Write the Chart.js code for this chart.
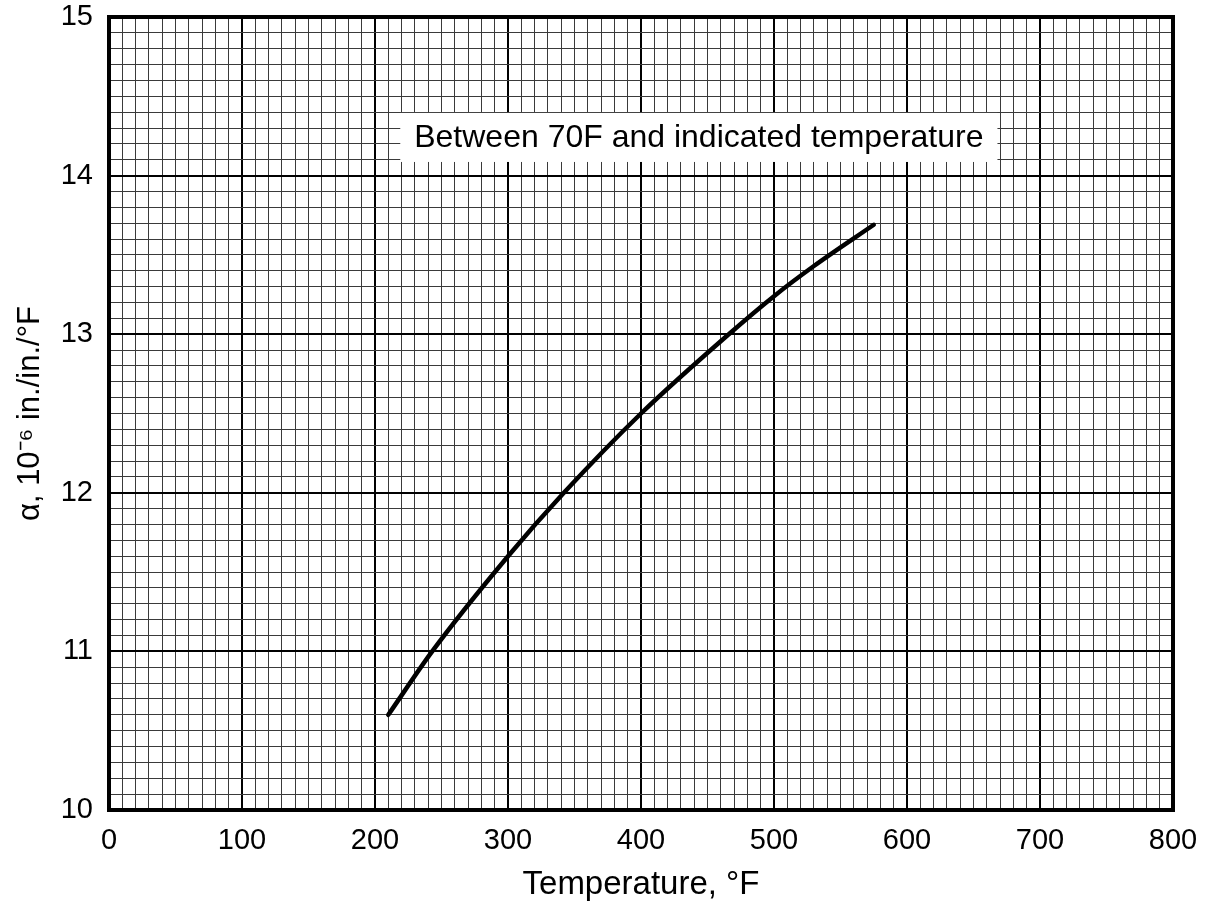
<!DOCTYPE html>
<html lang="en">
  <head>
    <meta charset="UTF-8" />
    <title>Thermal expansion coefficient</title>
    <script src="https://cdn.jsdelivr.net/npm/chart.js"></script>
    <style>
      body {
        margin: 0;
        background-color: white;
      }
    </style>
  </head>
  <body>
    <canvas id="alpha-chart" width="1210" height="911"></canvas>

    <script>
      // Curve
      const temperatures = [210, 243, 300, 342, 400, 466, 500, 530, 575];
      const alphaValues = [10.6, 11.0, 11.6, 12.0, 12.5, 13.0, 13.24, 13.43, 13.69];

      const xRange = [0, 800];
      const yRange = [10, 15];
      const noteText = "Between 70F and indicated temperature";
      // note box corners in data units
      const noteBox = { x0: 219, x1: 668, y0: 14.086, y1: 14.395 };

      const fontFamily = "Arial, 'Liberation Sans', sans-serif";

      function isMajorY(v) {
        return Math.abs(v - Math.round(v)) < 1e-6;
      }

      const framePlugin = {
        id: "frame",
        afterDatasetsDraw(chart) {
          const { ctx, chartArea, scales } = chart;
          ctx.save();
          // note box
          const left = scales.x.getPixelForValue(noteBox.x0);
          const right = scales.x.getPixelForValue(noteBox.x1);
          const top = scales.y.getPixelForValue(noteBox.y1);
          const bottom = scales.y.getPixelForValue(noteBox.y0);
          ctx.fillStyle = "white";
          ctx.fillRect(left, top, right - left, bottom - top);
          ctx.fillStyle = "black";
          ctx.font = "32px " + fontFamily;
          ctx.textAlign = "center";
          ctx.textBaseline = "middle";
          ctx.fillText(noteText, (left + right) / 2, (top + bottom) / 2 + 1);
          // heavy frame
          ctx.strokeStyle = "black";
          ctx.lineWidth = 4;
          ctx.strokeRect(
            chartArea.left,
            chartArea.top,
            chartArea.right - chartArea.left,
            chartArea.bottom - chartArea.top
          );
          ctx.restore();
        },
      };

      new Chart(document.getElementById("alpha-chart"), {
        type: "line",
        data: {
          datasets: [
            {
              data: temperatures.map((t, i) => ({ x: t, y: alphaValues[i] })),
              borderColor: "black",
              borderWidth: 4.5,
              borderCapStyle: "round",
              pointRadius: 0,
              cubicInterpolationMode: "monotone",
            },
          ],
        },
        options: {
          responsive: false,
          animation: false,
          layout: {
            padding: { top: 17, right: 37, left: 0, bottom: 0 },
          },
          plugins: {
            legend: { display: false },
            tooltip: { enabled: false },
          },
          scales: {
            x: {
              type: "linear",
              min: xRange[0],
              max: xRange[1],
              afterFit(scale) {
                scale.height = 101;
                scale.paddingLeft = 0;
                scale.paddingRight = 0;
              },
              border: { display: false },
              grid: {
                drawTicks: false,
                color: (c) => (c.tick.value % 100 === 0 ? "#000" : "#3a3a3a"),
                lineWidth: (c) => (c.tick.value % 100 === 0 ? 2 : 1),
              },
              ticks: {
                stepSize: 10,
                autoSkip: false,
                maxRotation: 0,
                padding: 14,
                color: "black",
                font: { size: 29, family: fontFamily },
                callback: (v) => (v % 100 === 0 ? String(v) : ""),
              },
              title: {
                display: true,
                text: "Temperature, °F",
                color: "black",
                font: { size: 33, family: fontFamily },
                padding: { top: 0, bottom: 6 },
              },
            },
            y: {
              type: "linear",
              min: yRange[0],
              max: yRange[1],
              afterFit(scale) {
                scale.width = 109;
                scale.paddingTop = 0;
                scale.paddingBottom = 0;
              },
              border: { display: false },
              grid: {
                drawTicks: false,
                color: (c) => (isMajorY(c.tick.value) ? "#000" : "#3a3a3a"),
                lineWidth: (c) => (isMajorY(c.tick.value) ? 2 : 1),
              },
              ticks: {
                stepSize: 0.1,
                autoSkip: false,
                padding: 16,
                color: "black",
                font: { size: 29, family: fontFamily },
                callback: (v) => (isMajorY(v) ? String(Math.round(v)) : ""),
              },
              title: {
                display: true,
                text: "α, 10⁻⁶ in./in./°F",
                color: "black",
                font: { size: 31, family: fontFamily },
                padding: { top: 12, bottom: 0 },
              },
            },
          },
        },
        plugins: [framePlugin],
      });
    </script>
  </body>
</html>
